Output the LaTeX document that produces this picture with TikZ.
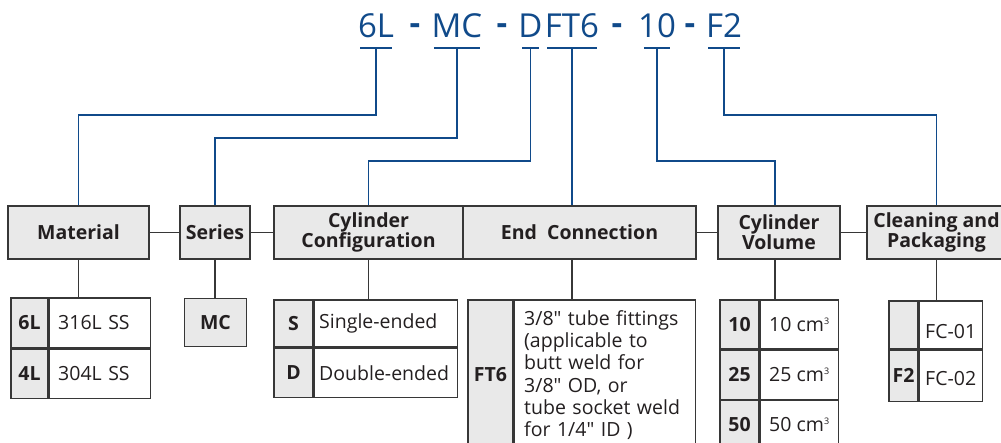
\documentclass[tikz,border=0pt]{standalone}
\usepackage{fontspec}
\setmainfont{Open Sans}
\usepackage{xcolor}
\usetikzlibrary{positioning}

\definecolor{codeblue}{RGB}{16,74,138}
\definecolor{cellgray}{RGB}{233,233,233}
\definecolor{rulegray}{RGB}{55,55,55}
\definecolor{inkdark}{RGB}{35,31,32}

\newcommand{\inch}{\textquotedbl}
\newcommand{\cubic}{\raisebox{7pt}{\fontsize{9}{9}\selectfont 3}}

\tikzset{
    codepart/.style={font=\fontsize{33}{33}\selectfont, text=codeblue, anchor=base, inner xsep=-2.5pt, inner ysep=10pt, text depth=0pt},
    codesep/.style={codepart, font=\bfseries\fontsize{33}{33}\selectfont},
    codeline/.style={draw=codeblue, line width=1.7pt},
    link/.style={draw=rulegray, line width=1.2pt},
    head/.style={draw=rulegray, fill=cellgray, line width=1.2pt, minimum height=53pt, inner sep=0pt, align=center, text=inkdark, font=\bfseries\fontsize{19.5}{20}\selectfont},
    keycell/.style={draw=rulegray, fill=cellgray, line width=1.2pt, inner sep=0pt, text=inkdark, font=\bfseries\fontsize{19.5}{22}\selectfont},
    valcell/.style={draw=rulegray, fill=white, line width=1.2pt, inner ysep=0pt, text=inkdark, align=left, font=\fontsize{19.5}{22.2}\selectfont},
}

\begin{document}
\begin{tikzpicture}[x=1pt, y=-1pt]
    \useasboundingbox (0,0) rectangle (1001,443);
    \clip (0,0) rectangle (1001,443);

    % part number
    \node[codepart] (c6L) at (376,38) {6L};
    \node[codepart] (cMC) at (457,38) {MC};
    \node[codepart, inner xsep=-4pt] (cD) at (530.5,38) {D};
    \node[codepart] (cFT6) at (572,38) {FT6};
    \node[codepart, inner xsep=-6pt] (c10) at (657,38) {10};
    \node[codepart] (cF2) at (724,38) {F2};
    \node[codesep] (sep1) at (415,38) {\raisebox{3pt}{-}};
    \node[codesep] (sep2) at (502,38) {\raisebox{3pt}{-}};
    \node[codesep] (sep3) at (617,38) {\raisebox{3pt}{-}};
    \node[codesep] (sep4) at (690,38) {\raisebox{3pt}{-}};
    \foreach \c in {c6L, cMC, cD, cFT6, c10, cF2}
        \draw[codeline] (\c.south west) -- (\c.south east);

    % headers
    \node[head, minimum width=141pt] (material) at (78.5,232.5) {Material};
    \node[head, minimum width=70pt] (series) at (215,232.5) {Series};
    \node[head, minimum width=189pt] (cylconf) at (368.5,232.5) {Cylinder\\Configuration};
    \node[head, minimum width=233pt] (endconn) at (579.5,232.5) {End~~Connection};
    \node[head, minimum width=122pt] (volume) at (779,232.5) {Cylinder\\Volume};
    \node[head, minimum width=139pt] (cleaning) at (936.5,232.5) {Cleaning and\\Packaging};

    % material
    \node[keycell, minimum width=37pt, minimum height=50pt] (k6L) at (29.5,323) {6L};
    \node[valcell, minimum height=50pt, inner xsep=9pt, text width=83pt, right=0pt of k6L] (v6L) {316L SS};
    \node[keycell, minimum width=37pt, minimum height=49pt, below=0pt of k6L] (k4L) {4L};
    \node[valcell, minimum height=49pt, inner xsep=9pt, text width=83pt, right=0pt of k4L] (v4L) {304L SS};

    % series
    \node[keycell, minimum width=62pt, minimum height=48.5pt] (kMC) at (215.5,322.5) {MC};

    % cylinder configuration
    \node[keycell, minimum width=39pt, minimum height=47pt] (kS) at (293.5,323.5) {S};
    \node[valcell, minimum height=47pt, inner xsep=5pt, text width=133pt, right=0pt of kS] (vS) {Single-ended};
    \node[keycell, minimum width=39pt, minimum height=49pt, below=0pt of kS] (kD) {D};
    \node[valcell, minimum height=49pt, inner xsep=5pt, text width=133pt, right=0pt of kD] (vD) {Double-ended};

    % end connection
    \node[keycell, minimum width=45pt, minimum height=150pt] (kFT6) at (490.5,375) {FT6};
    \node[valcell, minimum height=150pt, inner xsep=10pt, text width=161pt, right=0pt of kFT6] (vFT6)
        {3/8\inch{} tube fittings\\(applicable to\\butt weld for\\3/8\inch{} OD, or\\tube socket weld\\for 1/4\inch{} ID )};

    % cylinder volume
    \node[keycell, minimum width=39pt, minimum height=49pt] (k10) at (739.5,324.5) {10};
    \node[valcell, minimum width=78pt, minimum height=49pt, right=0pt of k10] (v10) {10 cm\cubic};
    \node[keycell, minimum width=39pt, minimum height=49pt, below=0pt of k10] (k25) {25};
    \node[valcell, minimum width=78pt, minimum height=49pt, right=0pt of k25] (v25) {25 cm\cubic};
    \node[keycell, minimum width=39pt, minimum height=49pt, below=0pt of k25] (k50) {50};
    \node[valcell, minimum width=78pt, minimum height=49pt, right=0pt of k50] (v50) {50 cm\cubic};

    % cleaning and packaging
    \node[keycell, minimum width=29pt, minimum height=48pt] (kF1) at (903.5,325) {};
    \node[valcell, minimum width=63pt, minimum height=48pt, text height=28pt, right=0pt of kF1] (vF1) {FC-01};
    \node[keycell, minimum width=29pt, minimum height=51pt, below=0pt of kF1] (kF2) {F2};
    \node[valcell, minimum width=63pt, minimum height=51pt, text height=19pt, right=0pt of kF2] (vF2) {FC-02};

    % code to header
    \draw[codeline] (c6L.south) -- ++(0,67) -| (material.north);
    \draw[codeline] (cMC.south) -- ++(0,90) -| (series.north);
    \draw[codeline] (cD.south) -- ++(0,113) -| (cylconf.north);
    \draw[codeline] (cFT6.south) -- (cFT6.south |- endconn.north);
    \draw[codeline] (c10.south) -- ++(0,113) -| ([xshift=-4pt]volume.north);
    \draw[codeline] (cF2.south) -- ++(0,67) -| (cleaning.north);

    % header to header
    \draw[link] (material) -- (series);
    \draw[link] (series) -- (cylconf);
    \draw[link] (endconn) -- (volume);
    \draw[link] (volume) -- (cleaning);

    % header to table
    \draw[link] (material.south) -- (material.south |- k6L.north);
    \draw[link] (series.south) -- (series.south |- kMC.north);
    \draw[link] (cylconf.south) -- (cylconf.south |- kS.north);
    \draw[link] (cFT6.south |- endconn.south) -- (cFT6.south |- kFT6.north);
    \draw[link] ([xshift=-4pt]volume.south) -- ([xshift=-4pt]volume.south |- k10.north);
    \draw[link] (cleaning.south) -- (cleaning.south |- kF1.north);
\end{tikzpicture}
\end{document}
